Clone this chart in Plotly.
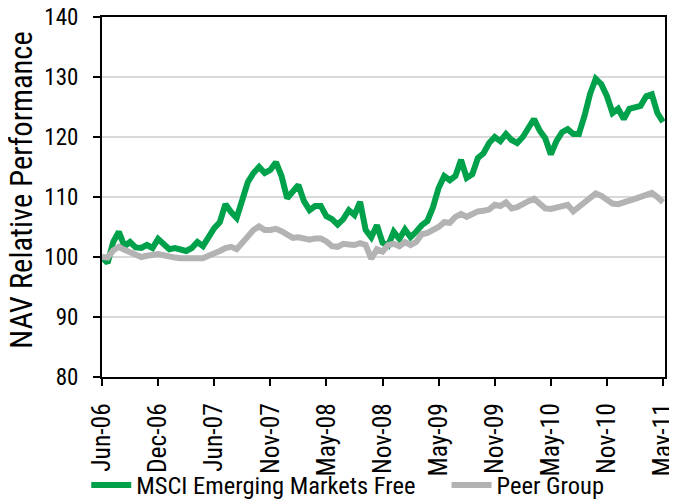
import plotly.graph_objects as go

tick_labels = ["Jun-06", "Dec-06", "Jun-07", "Nov-07", "May-08", "Nov-08",
               "May-09", "Nov-09", "May-10", "Nov-10", "May-11"]

msci = [100, 99.0, 102.5, 104.2, 101.8, 102.5, 101.6, 101.5, 102, 101.5,
        103, 102, 101.3, 101.5, 101.2, 101, 101.5, 102.5, 101.8, 103.5,
        104.8, 105.8, 108.8, 107.5, 106.5, 109.5, 112.5, 114, 115, 114,
        114.5, 115.8, 113.5, 109.8, 111, 112, 109.3, 107.8, 108.5, 108.5,
        106.8, 106.3, 105.4, 106.3, 107.8, 107, 109.2, 104.5, 103.3, 105.3,
        102.4, 101.9, 104.2, 103, 104.6, 103.3, 104.2, 105.3, 106, 108.3,
        111.5, 113.5, 112.8, 113.5, 116.2, 113.2, 113.8, 116.5, 117.3, 119,
        120, 119.3, 120.5, 119.5, 119, 120, 121.5, 123, 121.1, 119.8,
        117.1, 119.3, 120.8, 121.3, 120.5, 120.5, 123.5, 127.2, 129.7, 128.8,
        126.8, 124, 124.7, 123, 124.7, 125, 125.2, 126.8, 127.1, 124,
        122.5]

peer = [100, 99.9, 101.1, 101.7, 101.2, 100.8, 100.5, 100, 100.2, 100.3,
        100.5, 100.3, 100, 99.9, 99.8, 99.8, 99.7, 99.6, 99.8, 100.2,
        100.5, 101, 101.5, 101.7, 101.3, 102.3, 103.6, 104.5, 105.1, 104.5,
        104.5, 104.7, 104.3, 103.7, 103.2, 103.3, 103, 102.9, 103.1, 103.1,
        102.6, 101.8, 101.7, 102.2, 102.1, 102, 102.3, 102, 99.7, 101.3,
        100.9, 102, 102.2, 101.8, 102.5, 102, 102.5, 103.8, 104, 104.5,
        105, 105.8, 105.7, 106.7, 107.2, 106.7, 107.2, 107.6, 107.7, 107.9,
        108.7, 108.5, 109.1, 108.1, 108.3, 108.9, 109.3, 109.7, 109, 108.1,
        108, 108.3, 108.6, 108.7, 107.6, 108.3, 109.1, 110, 110.6, 110.2,
        109.4, 108.9, 108.8, 109, 109.4, 109.7, 110.1, 110.5, 110.7, 110,
        109.1]

y_title = "NAV Relative Performance"

x = list(range(len(msci)))
tick_pos = [i * 10 for i in range(len(tick_labels))]

FONT = ("Roboto Condensed, DejaVu Sans Condensed, Liberation Sans Narrow, "
        "Arial Narrow, Liberation Sans, Arial, sans-serif")

fig = go.Figure()
fig.add_trace(go.Scatter(x=x, y=msci, mode="lines", name="MSCI Emerging Markets Free",
                         line=dict(color="#00A14B", width=6), legend="legend"))
fig.add_trace(go.Scatter(x=x, y=peer, mode="lines", name="Peer Group",
                         line=dict(color="#B3B3B3", width=6), legend="legend2"))

legend_common = dict(orientation="h", xanchor="left", y=-0.3, yanchor="middle",
                     bgcolor="rgba(0,0,0,0)", itemwidth=40,
                     font=dict(size=24.5, family=FONT))

# page body adds an 8px offset, so the figure is 669x494
fig.update_layout(
    width=669, height=494,
    margin=dict(l=94, r=12, t=9, b=125, autoexpand=False),
    paper_bgcolor="white", plot_bgcolor="white",
    font=dict(family=FONT, color="black", size=24),
    showlegend=True,
    legend=dict(x=-0.028, **legend_common),
    legend2=dict(x=0.612, **legend_common),
    xaxis=dict(range=[0, 100.35], tickvals=tick_pos, ticktext=tick_labels,
               tickangle=-90, showgrid=False, showline=True, linecolor="black",
               linewidth=2, mirror=True, ticks="outside", ticklen=7, tickwidth=2,
               tickcolor="black", tickfont=dict(size=25.5, family=FONT),
               ticklabelstandoff=7, ticklabeloverflow="allow",
               automargin=False, zeroline=False),
    yaxis=dict(range=[80, 140], dtick=10, showgrid=True, gridcolor="#D9D9D9",
               gridwidth=1.5, showline=True, linecolor="black", linewidth=2,
               mirror=True, ticks="outside", ticklen=7, tickwidth=2,
               tickcolor="black", tickfont=dict(size=23, family=FONT),
               ticklabelstandoff=10, ticklabeloverflow="allow",
               automargin=False, zeroline=False),
    annotations=[dict(text=y_title, textangle=-90, xref="paper", yref="paper",
                      x=-0.143, y=0.519, xanchor="center", yanchor="middle",
                      showarrow=False, font=dict(size=30.5, family=FONT, color="black"))],
)

fig.write_html("out.html")
